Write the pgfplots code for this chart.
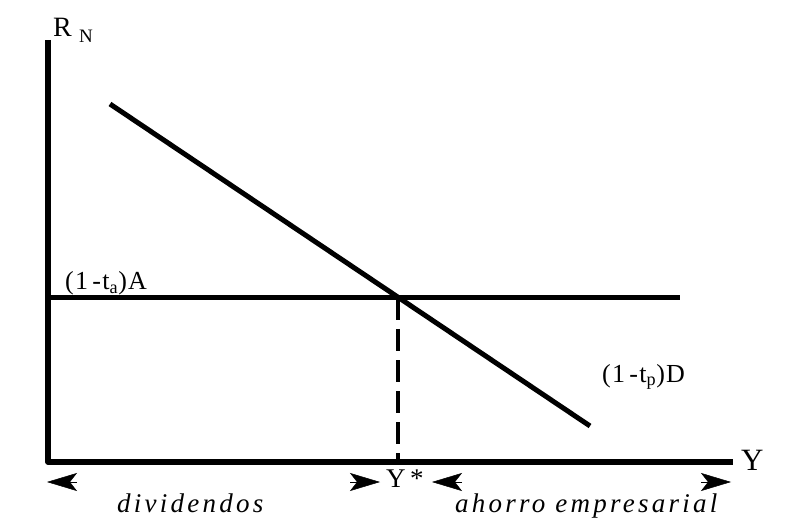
\documentclass[border=0pt]{standalone}
\usepackage{pgfplots}
\pgfplotsset{compat=1.18}
\usepackage{fontspec}
\setmainfont{Liberation Serif}
\usetikzlibrary{arrows.meta}
\begin{document}
\begin{tikzpicture}
\begin{axis}[
  scale only axis, width=798pt, height=529pt,
  xmin=0, xmax=798, ymin=0, ymax=529, y dir=reverse,
  hide axis, clip=false,
]
\addplot[draw=none] coordinates {(0,0) (798,529)};
% axes
\addplot[black, line width=5.5pt, line join=round] coordinates {(48,40) (48,462) (733,462)};
% (1-tp)D
\addplot[black, line width=5pt] coordinates {(110,104) (590,426)};
% (1-ta)A horizontal
\addplot[black, line width=5pt] coordinates {(48,298) (680,298)};
% dashed Y*
\addplot[black, line width=3.8pt, dash pattern=on 22pt off 9pt] coordinates {(398,298) (398,462)};
% arrowheads
\addplot[black, line width=0.5pt, -{Stealth[length=30pt,width=18pt,inset=7pt]}] coordinates {(77,482) (47,482)};
\addplot[black, line width=0.5pt, -{Stealth[length=30pt,width=18pt,inset=7pt]}] coordinates {(350,482) (380,482)};
\addplot[black, line width=0.5pt, -{Stealth[length=30pt,width=18pt,inset=7pt]}] coordinates {(462,482) (432,482)};
\addplot[black, line width=0.5pt, -{Stealth[length=30pt,width=18pt,inset=7pt]}] coordinates {(701,482) (731,482)};
% labels
\node[anchor=base west, inner sep=0pt, font=\fontsize{28}{30}\selectfont] at (axis cs:53,37) {R};
\node[anchor=base west, inner sep=0pt, font=\fontsize{19}{22}\selectfont] at (axis cs:79,43) {N};
\node[anchor=base west, inner sep=0pt, font=\fontsize{26}{30}\selectfont\addfontfeature{LetterSpace=5}] at (axis cs:65,290) {(1\,-t\textsubscript{a})A};
\node[anchor=base west, inner sep=0pt, font=\fontsize{26}{30}\selectfont\addfontfeature{LetterSpace=5}] at (axis cs:602,382) {(1\,-t\textsubscript{p})D};
\node[anchor=base west, inner sep=0pt, font=\fontsize{27}{30}\selectfont] at (axis cs:386,487) {Y\,*};
\node[anchor=base west, inner sep=0pt, font=\fontsize{31}{34}\selectfont] at (axis cs:741,470) {Y};
\node[anchor=base west, inner sep=0pt, font=\fontsize{27}{30}\selectfont\itshape\addfontfeature{LetterSpace=12}] at (axis cs:117,512) {dividendos};
\node[anchor=base west, inner sep=0pt, font=\fontsize{27}{30}\selectfont\itshape\addfontfeature{LetterSpace=12}] at (axis cs:455,512) {ahorro empresarial};
\end{axis}
\end{tikzpicture}
\end{document}
